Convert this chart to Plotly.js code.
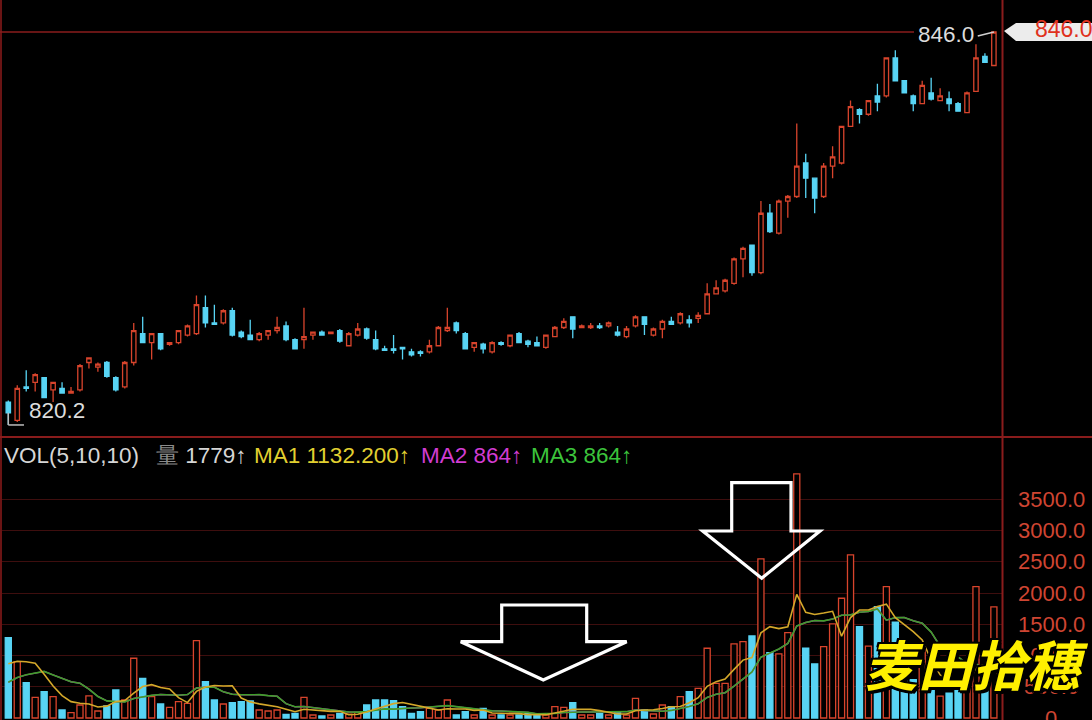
<!DOCTYPE html>
<html>
<head>
<meta charset="utf-8">
<script src="https://cdn.plot.ly/plotly-3.0.1.min.js"></script>
<style>
html,body{margin:0;padding:0;background:#000;overflow:hidden;}
#chart{width:1092px;height:720px;}
</style>
</head>
<body>
<div id="chart"></div>
<script>
// ---- price candles (one per session) ----
const open  = [821.7,820.5,822.7,823.0,823.3,822.5,822.6,822.3,822.5,824.3,
               824.0,824.3,823.3,822.7,824.3,826.2,825.6,826.2,825.5,825.6,
               826.1,826.2,827.9,826.9,826.9,827.7,826.3,826.1,825.8,826.1,
               826.4,826.7,825.8,825.8,826.1,826.3,826.2,826.4,825.4,826.1,
               826.5,825.8,825.2,825.2,825.3,825.0,825.0,825.0,825.4,826.4,
               826.9,826.2,825.3,825.5,825.0,825.6,825.4,826.2,825.7,825.6,
               825.3,826.0,826.6,827.3,826.6,826.6,826.7,826.7,826.3,826.0,
               826.7,827.3,826.1,826.5,827.0,826.9,827.1,827.2,827.5,828.8,
               829.0,829.5,831.1,832.0,830.2,834.1,832.8,834.9,835.2,837.4,
               836.4,835.2,837.2,837.4,839.8,840.9,840.6,841.8,841.8,844.3,
               842.8,841.8,841.3,842.0,841.5,841.6,841.3,840.7,842.1,844.4,
               843.8];
const high  = [821.8,822.8,823.8,823.6,823.3,823.0,823.0,822.7,824.2,824.6,
               824.3,824.4,823.4,824.4,826.9,827.3,826.2,826.2,825.6,826.4,
               826.8,828.7,828.7,828.1,827.8,827.9,826.4,827.1,826.3,826.4,
               827.3,827.0,825.9,827.9,826.3,826.4,826.3,826.5,826.3,826.9,
               826.6,826.4,825.4,826.1,825.3,825.2,825.1,825.8,826.7,827.9,
               827.0,826.3,825.6,825.6,825.7,825.7,826.1,826.3,825.8,826.0,
               826.1,826.7,827.2,827.3,826.8,826.9,826.9,827.0,826.7,826.7,
               827.4,827.3,826.6,827.1,827.3,827.6,827.4,827.6,829.5,829.7,
               829.8,831.2,831.9,832.0,834.9,834.7,835.0,835.3,840.0,838.0,
               836.4,837.4,838.5,839.8,841.5,841.0,841.5,842.6,844.3,844.8,
               842.8,841.9,842.8,843.0,842.3,842.1,841.4,842.1,845.2,844.6,
               846.0];
const low   = [820.2,820.4,822.4,822.4,822.0,821.7,822.3,822.3,822.4,823.9,
               823.7,823.3,822.4,822.6,824.1,825.6,824.5,825.1,825.4,825.5,
               826.0,826.1,826.6,826.8,826.8,826.0,825.9,825.8,825.7,825.8,
               826.2,825.7,825.2,825.2,825.8,826.1,826.2,825.6,825.4,826.0,
               825.8,825.1,825.1,824.9,824.5,824.7,824.7,824.9,825.4,826.3,
               826.2,825.2,825.0,824.9,824.9,825.4,825.3,825.6,825.3,825.4,
               825.2,826.0,826.5,825.9,826.6,826.5,826.5,826.6,826.0,825.9,
               826.6,826.1,826.0,825.9,826.8,826.8,826.6,826.9,827.5,828.8,
               828.9,829.4,829.9,830.0,830.1,832.8,832.7,833.8,835.1,835.1,
               834.1,835.1,836.4,837.3,839.8,840.0,840.5,840.8,841.7,842.8,
               842.0,840.8,841.3,841.5,841.5,840.8,840.8,840.7,842.1,844.0,
               843.8];
const close = [821.0,822.6,822.6,823.5,822.0,823.0,822.3,822.4,824.1,824.6,
               824.2,823.4,822.5,824.3,826.4,825.6,826.2,825.2,825.6,826.4,
               826.7,828.1,826.9,826.8,827.7,826.1,826.0,825.8,826.2,826.4,
               826.6,825.8,825.2,826.0,826.3,826.1,826.3,825.7,826.2,826.5,
               825.9,825.2,825.1,825.1,825.2,824.8,824.9,825.4,826.6,826.6,
               826.4,825.2,825.6,825.2,825.6,825.5,826.1,825.6,825.5,825.4,
               826.1,826.6,827.0,826.5,826.7,826.7,826.6,826.9,826.1,826.5,
               827.3,826.8,826.5,827.0,826.8,827.5,826.9,827.4,828.8,829.2,
               829.7,831.1,831.8,830.2,834.1,832.9,834.9,835.2,837.2,836.4,
               835.1,837.2,837.8,839.8,841.1,840.6,841.5,841.4,844.3,842.8,
               842.0,841.3,842.5,841.6,841.8,841.3,840.8,842.0,844.3,844.0,
               846.0];
// ---- volume per session ----
const volume = [1287,903,566,331,422,342,128,86,208,353,
                112,192,449,288,957,636,342,224,171,262,
                235,1239,582,288,224,246,262,272,128,112,
                128,59,75,331,48,32,48,75,60,90,
                208,288,288,278,181,75,101,155,128,288,
                48,101,48,155,48,48,48,48,75,48,
                48,181,171,246,48,48,75,48,101,48,
                315,128,64,208,181,342,422,476,1117,556,
                556,1186,1223,1314,2549,1047,1026,1368,3911,1117,
                866,1143,1507,1918,2613,1464,1150,1784,2105,1534,
                882,615,1114,500,350,400,500,700,2105,577,
                1779];
// sessions before the visible window (only feed the moving averages)
const prevVol = [150,120,100,110,900,700,600,450,1300];
const volTicks = [0,500,1000,1500,2000,2500,3000,3500];
const volTickLabels = ['0','500.0','1000.0','1500.0','2000.0','2500.0','3000.0','3500.0'];
const maPeriods = [5,10,10];
const watermark = '麦田拾穗';

// ---- helpers ----
const W = 1092, H = 720;
const PX = x => x / W;
const PY = y => 1 - y / H;
const N = close.length;
const idx = Array.from({length:N}, (_, i) => i);
const RED = '#d8442c', CYAN = '#58d4f4';
function ma(n){
  const all = prevVol.concat(volume), off = prevVol.length;
  return volume.map((v,i)=>{let s=0;for(let k=0;k<n;k++)s+=all[off+i-k];return s/n;});
}
const ma1 = ma(maPeriods[0]), ma2 = ma(maPeriods[1]), ma3 = ma(maPeriods[2]);
const up = idx.map(i => close[i] >= open[i]);

let iHigh = 0, iLow = 0;
for (let i=0;i<N;i++){ if(high[i]>high[iHigh]) iHigh=i; if(low[i]<low[iLow]) iLow=i; }
const maxHigh = high[iHigh], minLow = low[iLow];

const FONT = 'Liberation Sans, Arial, sans-serif';

const traces = [
  {type:'candlestick', x:idx, open:open, high:high, low:low, close:close,
   xaxis:'x', yaxis:'y', hoverinfo:'skip', whiskerwidth:0,
   increasing:{line:{color:RED,width:1.3}, fillcolor:'#000000'},
   decreasing:{line:{color:CYAN,width:1.3}, fillcolor:CYAN}},
  {type:'bar', x:idx, y:volume, xaxis:'x', yaxis:'y2', width:0.68, hoverinfo:'skip',
   marker:{color: up.map(u => u ? '#000000' : CYAN),
           line:{color: up.map(u => u ? RED : CYAN), width:1.3}}},
  {type:'scatter', mode:'lines', x:idx, y:ma2, xaxis:'x', yaxis:'y2', hoverinfo:'skip',
   line:{color:'#c030c0', width:1.4}},
  {type:'scatter', mode:'lines', x:idx, y:ma3, xaxis:'x', yaxis:'y2', hoverinfo:'skip',
   line:{color:'#3f9f2a', width:1.6}},
  {type:'scatter', mode:'lines', x:idx, y:ma1, xaxis:'x', yaxis:'y2', hoverinfo:'skip',
   line:{color:'#d4a82a', width:1.6}}
];

const ann = [];
const hdrY = PY(455), hf = 22.5;
ann.push({xref:'paper',yref:'paper',x:PX(2),y:hdrY,xanchor:'left',yanchor:'middle',showarrow:false,
  text:'VOL(' + maPeriods.join(',') + ')', font:{family:FONT,size:hf,color:'#d6d6d6'}});
ann.push({xref:'paper',yref:'paper',x:PX(154),y:hdrY,xanchor:'left',yanchor:'middle',showarrow:false,
  text:'<span style="color:#8c8c8c">量</span> ' + volume[N-1] + '↑', font:{family:FONT,size:hf,color:'#d6d6d6'}});
ann.push({xref:'paper',yref:'paper',x:PX(252),y:hdrY,xanchor:'left',yanchor:'middle',showarrow:false,
  text:'MA1 ' + ma1[N-1].toFixed(3) + '↑', font:{family:FONT,size:hf,color:'#e2d030'}});
ann.push({xref:'paper',yref:'paper',x:PX(419),y:hdrY,xanchor:'left',yanchor:'middle',showarrow:false,
  text:'MA2 ' + Math.round(ma2[N-1]) + '↑', font:{family:FONT,size:hf,color:'#d23cd2'}});
ann.push({xref:'paper',yref:'paper',x:PX(529),y:hdrY,xanchor:'left',yanchor:'middle',showarrow:false,
  text:'MA3 ' + Math.round(ma3[N-1]) + '↑', font:{family:FONT,size:hf,color:'#3cc43c'}});
// volume axis labels (centred, as in the terminal)
volTicks.forEach((v,k)=>{
  ann.push({xref:'paper',yref:'y2',x:PX(1051),y:v,xanchor:'center',yanchor:'middle',showarrow:false,
    text:volTickLabels[k], font:{family:FONT,size:22,color:'#cf4532'}});
});
// low / high markers
ann.push({xref:'x',yref:'y',x:iLow+2.05,y:minLow,xanchor:'left',yanchor:'bottom',showarrow:false,
  text:minLow.toFixed(1), font:{family:FONT,size:22.5,color:'#dcdcdc'}});
ann.push({xref:'x',yref:'y',x:iHigh-2.0,y:maxHigh-0.15,xanchor:'right',yanchor:'middle',showarrow:false,
  text:maxHigh.toFixed(1), font:{family:FONT,size:22.5,color:'#dcdcdc'}});
ann.push({xref:'paper',yref:'paper',x:PX(1033),y:PY(29),xanchor:'left',yanchor:'middle',showarrow:false,
  text:maxHigh.toFixed(1), font:{family:FONT,size:23,color:'#e0321e'}});
// watermark
ann.push({xref:'paper',yref:'paper',x:PX(976),y:PY(662),xanchor:'center',yanchor:'middle',showarrow:false,
  text:'<b>'+watermark+'</b>', font:{family:'Noto Sans CJK SC, sans-serif',size:54,color:'#fff000',style:'italic',
  shadow:'3px 3px 0 #000, -2px -2px 0 #000, 2px -2px 0 #000, -2px 2px 0 #000, 0 3px 0 #000, 3px 0 0 #000'}});

function path(pts){ return 'M ' + pts.map(p => PX(p[0]) + ',' + PY(p[1])).join(' L ') + ' Z'; }
const shapes = [
  {type:'line',xref:'paper',yref:'paper',x0:PX(1),x1:PX(1),y0:0,y1:1,line:{color:'#6a1414',width:2}},
  {type:'line',xref:'paper',yref:'paper',x0:PX(1002.5),x1:PX(1002.5),y0:0,y1:1,line:{color:'#8a1c1c',width:2}},
  {type:'line',xref:'paper',yref:'paper',x0:0,x1:1,y0:PY(437),y1:PY(437),line:{color:'#8a1c1c',width:2}},
  {type:'line',xref:'paper',yref:'y',x0:0,x1:PX(914),y0:maxHigh,y1:maxHigh,line:{color:'#8a1c1c',width:1.5}},
  {type:'line',xref:'x',yref:'y',x0:iLow,x1:iLow+1.75,y0:minLow,y1:minLow,line:{color:'#bdbdbd',width:1.5}},
  {type:'line',xref:'x',yref:'y',x0:iLow,x1:iLow,y0:minLow,y1:Math.min(open[iLow],close[iLow]),line:{color:'#bdbdbd',width:1.5}},
  {type:'line',xref:'x',yref:'y',x0:iHigh-1.8,x1:iHigh,y0:maxHigh-0.26,y1:maxHigh,line:{color:'#cfcfcf',width:1.5}},
  {type:'path',xref:'paper',yref:'paper',path:path([[1004,31],[1016,23],[1092,23],[1092,41],[1016,41]]),
   fillcolor:'#ececec',line:{width:0}},
  {type:'path',xref:'paper',yref:'paper',layer:'above',
   path:path([[501.7,605],[586.7,605],[586.7,641.7],[626.7,641.7],[543.3,680],[460.7,641.7],[501.7,641.7]]),
   fillcolor:'rgba(0,0,0,0)',line:{color:'#ffffff',width:3.2}},
  {type:'path',xref:'paper',yref:'paper',layer:'above',
   path:path([[731.7,482.7],[791,482.7],[791,531],[820,531],[761.7,578.3],[702.7,531],[731.7,531]]),
   fillcolor:'rgba(0,0,0,0)',line:{color:'#ffffff',width:3.2}}
];

const layout = {
  width:W, height:H, margin:{l:0,r:0,t:0,b:0,pad:0},
  paper_bgcolor:'#000000', plot_bgcolor:'#000000', showlegend:false,
  boxgap:0.3, bargap:0.3, hovermode:false,
  xaxis:{domain:[0,1002/W], range:[-0.926,110.906], showgrid:false, zeroline:false, showline:false,
         showticklabels:false, ticks:'', rangeslider:{visible:false}, fixedrange:true},
  yaxis:{domain:[1-437/H,1], range:[819.41,848.10], showgrid:false, zeroline:false, showline:false,
         showticklabels:false, ticks:'', fixedrange:true},
  yaxis2:{domain:[0,1-437/H], range:[-32,4501], tickvals:volTicks.slice(1), showticklabels:false,
          showgrid:true, gridcolor:'#3e0e0e', gridwidth:1, zeroline:false, showline:false, ticks:'', fixedrange:true},
  annotations:ann, shapes:shapes
};
Plotly.newPlot('chart', traces, layout, {staticPlot:true, displayModeBar:false});
</script>
</body>
</html>
